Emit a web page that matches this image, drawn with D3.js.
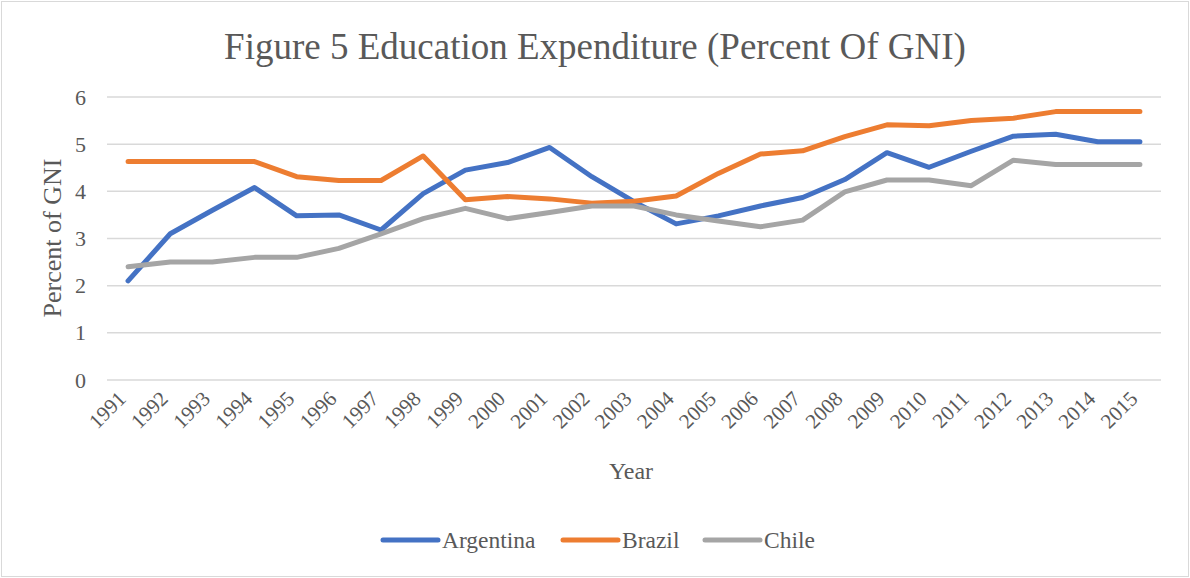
<!DOCTYPE html>
<html>
<head>
<meta charset="utf-8">
<script src="https://cdn.jsdelivr.net/npm/d3@7"></script>
<style>
  body { margin: 0; background: #fff; }
  text { font-family: "Liberation Serif", "Times New Roman", serif; fill: #595959; }
</style>
</head>
<body>
<div id="chart"></div>
<script>
const width = 1190;
const height = 578;

// data
const years = ["1991","1992","1993","1994","1995","1996","1997","1998","1999","2000","2001","2002","2003",
  "2004","2005","2006","2007","2008","2009","2010","2011","2012","2013","2014","2015"];
const argentina = [2.1, 3.1, 3.6, 4.08, 3.48, 3.5, 3.18, 3.95, 4.45, 4.61, 4.93, 4.31, 3.78,
  3.31, 3.48, 3.69, 3.87, 4.25, 4.82, 4.51, 4.85, 5.17, 5.21, 5.05, 5.05];
const brazil = [4.63, 4.63, 4.63, 4.63, 4.31, 4.23, 4.23, 4.75, 3.82, 3.89, 3.84, 3.75, 3.79,
  3.9, 4.38, 4.79, 4.86, 5.16, 5.41, 5.39, 5.5, 5.55, 5.69, 5.69, 5.69];
const chile = [2.4, 2.5, 2.5, 2.6, 2.6, 2.79, 3.1, 3.42, 3.64, 3.42, 3.55, 3.69, 3.69,
  3.5, 3.37, 3.25, 3.39, 3.99, 4.24, 4.24, 4.12, 4.66, 4.57, 4.57, 4.57];
const yTicks = [0, 1, 2, 3, 4, 5, 6];

const series = [
  { name: "Argentina", values: argentina, color: "#4472C4" },
  { name: "Brazil", values: brazil, color: "#ED7D31" },
  { name: "Chile", values: chile, color: "#A5A5A5" }
];

const svg = d3.select("#chart")
  .append("svg")
  .attr("width", width)
  .attr("height", height);

// outer frame
svg.append("rect")
  .attr("x", 1.5).attr("y", 1.5)
  .attr("width", width - 3).attr("height", height - 3)
  .attr("fill", "#fff")
  .attr("stroke", "#d9d9d9")
  .attr("stroke-width", 1);

const margin = { left: 107, right: 1161, top: 97, bottom: 380 };

const x = d3.scaleBand()
  .domain(years)
  .range([margin.left, margin.right]);

const y = d3.scaleLinear()
  .domain([0, 6])
  .range([margin.bottom, margin.top]);

// title
svg.append("text")
  .attr("x", 595)
  .attr("y", 59)
  .attr("text-anchor", "middle")
  .style("font-size", "37px")
  .text("Figure 5 Education Expenditure (Percent Of GNI)");

// grid
svg.append("g")
  .selectAll("line")
  .data(yTicks)
  .enter()
  .append("line")
  .attr("x1", margin.left)
  .attr("x2", margin.right)
  .attr("y1", d => y(d))
  .attr("y2", d => y(d))
  .attr("stroke", "#d9d9d9")
  .attr("stroke-width", 1.5);

// y axis
const yAxis = svg.append("g")
  .attr("transform", `translate(${margin.left - 21},0)`)
  .call(d3.axisLeft(y).tickValues(yTicks).tickFormat(d3.format("d")).tickSize(0).tickPadding(0));
yAxis.select(".domain").remove();
yAxis.selectAll("text")
  .style("font-size", "22px")
  .style("font-family", "Liberation Serif, serif")
  .attr("fill", "#595959");

// x axis
const xAxis = svg.append("g")
  .attr("transform", `translate(0,${margin.bottom})`)
  .call(d3.axisBottom(x).tickSize(0));
xAxis.select(".domain").remove();
xAxis.selectAll("text")
  .style("font-size", "21px")
  .style("font-family", "Liberation Serif, serif")
  .attr("fill", "#595959")
  .attr("text-anchor", "end")
  .attr("dy", "0")
  .attr("y", 0)
  .attr("transform", "translate(-1,20) rotate(-45)");

// axis titles
svg.append("text")
  .attr("transform", "translate(61,238) rotate(-90)")
  .attr("text-anchor", "middle")
  .style("font-size", "26px")
  .text("Percent of GNI");

svg.append("text")
  .attr("x", 631)
  .attr("y", 479)
  .attr("text-anchor", "middle")
  .style("font-size", "24px")
  .text("Year");

// lines
const line = d3.line()
  .x((d, i) => x(years[i]) + x.bandwidth() / 2)
  .y(d => y(d));

series.forEach(s => {
  svg.append("path")
    .datum(s.values)
    .attr("d", line)
    .attr("fill", "none")
    .attr("stroke", s.color)
    .attr("stroke-width", 5)
    .attr("stroke-linejoin", "round")
    .attr("stroke-linecap", "round");
});

// legend
const legendX = [383, 563, 705];
const legend = svg.append("g")
  .selectAll("g")
  .data(series)
  .enter()
  .append("g")
  .attr("transform", (d, i) => `translate(${legendX[i]},540)`);

legend.append("line")
  .attr("x1", 0).attr("x2", 55)
  .attr("stroke", d => d.color)
  .attr("stroke-width", 5)
  .attr("stroke-linecap", "round");

legend.append("text")
  .attr("x", 59)
  .attr("y", 8)
  .style("font-size", "23.5px")
  .text(d => d.name);
</script>
</body>
</html>
